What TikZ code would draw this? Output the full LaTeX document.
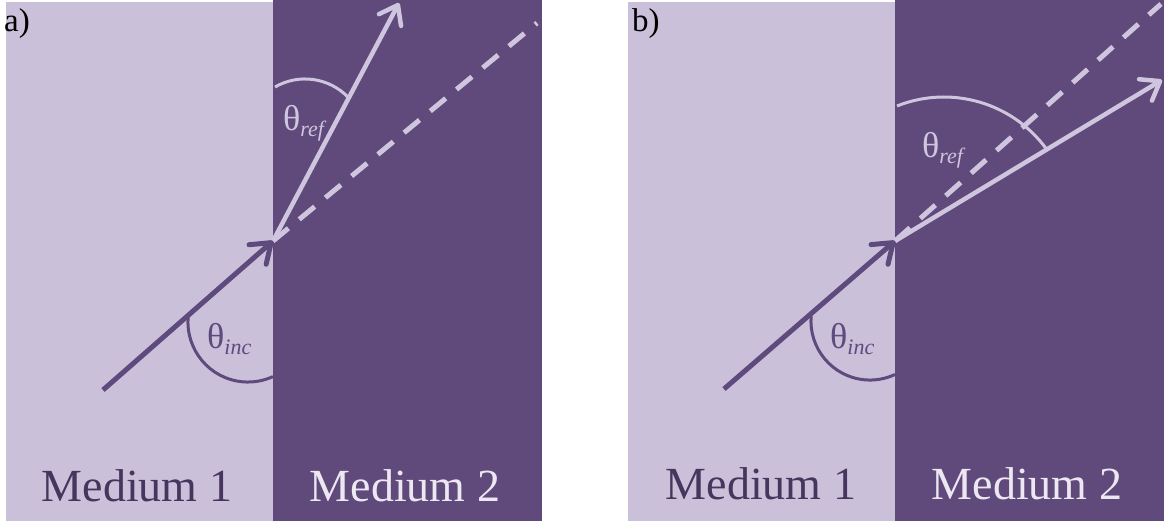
\documentclass[tikz,border=0pt]{standalone}
\usepackage{fontspec}
\setmainfont{Liberation Serif}
\usetikzlibrary{arrows.meta}
\definecolor{lightmed}{HTML}{CAC0DA}
\definecolor{darkmed}{HTML}{5F4A7B}
\definecolor{lightray}{HTML}{CFC5DE}
\definecolor{darkray}{HTML}{5E4A7C}
\definecolor{medonetext}{HTML}{46355C}
\definecolor{medtwotext}{HTML}{EDE7F2}
\newcommand{\subtxt}[1]{{\fontsize{22}{22}\selectfont\itshape\raisebox{-6pt}{#1}}}
\begin{document}
\begin{tikzpicture}[x=1pt,y=-1pt,
  incray/.style={draw=darkray, line width=5pt, -{Straight Barb[length=18pt,width=26pt,round]}},
  refray/.style={draw=lightray, line width=4.5pt, -{Straight Barb[length=17pt,width=25pt,round]}},
  dashray/.style={draw=lightray, line width=5pt, dash pattern=on 20pt off 14pt},
  incarc/.style={draw=darkray, line width=3pt},
  refarc/.style={draw=lightray, line width=3pt},
  anglab/.style={inner sep=0pt, anchor=base west, font=\fontsize{36}{36}\selectfont},
  medlab/.style={inner sep=0pt, anchor=base, font=\fontsize{46}{46}\selectfont},
  panlab/.style={inner sep=0pt, anchor=base west, text=black, font=\fontsize{33}{33}\selectfont}]
\useasboundingbox (0,0) rectangle (1168,523);
\fill[white] (0,0) rectangle (1168,523);
% ---------- panel a ----------
\fill[lightmed] (6,2) rectangle (273,521);
\fill[darkmed] (273,0) rectangle (542,521);
\coordinate (Pa) at (273,241);
\coordinate (Sa) at (103,390);
\coordinate (Ra) at (399,3);
\coordinate (Da) at (537,23);
\draw[dashray] (Pa) -- (Da);
\draw[refray] (Pa) -- (Ra);
\draw[incray] (Sa) -- (Pa);
\draw[incarc] (188.2,316.8) arc[start angle=185, end angle=65.4, radius=60];
\draw[refarc] (275,87) arc[start angle=-120, end angle=-43.6, radius=60];
\node[anglab, text=darkray] (inca) at (207,348) {θ\subtxt{inc}};
\node[anglab, text=lightray] (refa) at (283,130) {θ\subtxt{ref}};
\node[medlab, text=medonetext] (m1a) at (137,501) {Medium 1};
\node[medlab, text=medtwotext] (m2a) at (405,501) {Medium 2};
\node[panlab] (la) at (4,31) {a)};
% ---------- panel b ----------
\fill[lightmed] (628,2) rectangle (895,521);
\fill[darkmed] (895,0) rectangle (1164,521);
\coordinate (Pb) at (895,241);
\coordinate (Sb) at (724,389);
\coordinate (Rb) at (1162,80);
\coordinate (Db) at (1161,4);
\draw[dashray] (Pb) -- (Db);
\draw[refray] (Pb) -- (Rb);
\draw[incray] (Sb) -- (Pb);
\draw[incarc] (811.2,315.9) arc[start angle=185, end angle=64.9, radius=59];
\draw[refarc] (897,106) arc[start angle=-111.7, end angle=-36, radius=127];
\node[anglab, text=darkray] (incb) at (830,348) {θ\subtxt{inc}};
\node[anglab, text=lightray] (refb) at (922,157) {θ\subtxt{ref}};
\node[medlab, text=medonetext] (m1b) at (761,499) {Medium 1};
\node[medlab, text=medtwotext] (m2b) at (1027,499) {Medium 2};
\node[panlab] (lb) at (632,31) {b)};
\end{tikzpicture}
\end{document}
